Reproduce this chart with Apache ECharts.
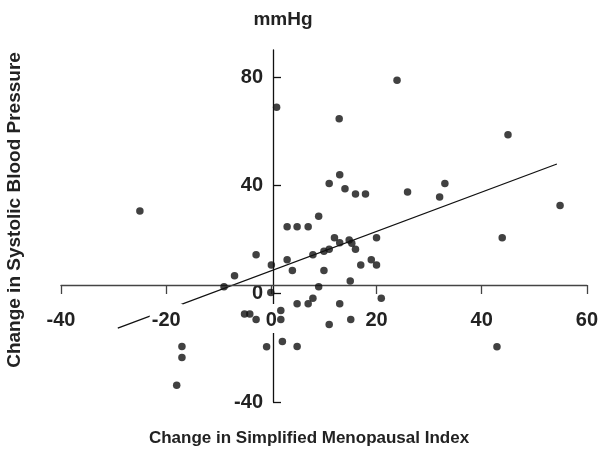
<!DOCTYPE html>
<html>
<head>
<meta charset="utf-8">
<script src="https://cdn.jsdelivr.net/npm/echarts@6/dist/echarts.min.js"></script>
<style>html,body{margin:0;padding:0;background:#fff;}#c{width:603px;height:455px;}</style>
</head>
<body>
<div id="c"></div>
<script>
// Change in Simplified Menopausal Index (x) and change in systolic BP (y)
var smiChange = [-25, -17, -17, -18, -9, -7, -5.1, -4.1, -2.9, -2.9, -0.9, -0.1, 0, 1.8, 1.8, 2.1, 3, 4.9, 7, 9,
  3, 4, 4.9, 4.9, 7, 7.9, 7.9, 9, 10, 11, 10, 11, 11, 13, 12.9, 14, 16, 17.9, 12, 13,
  14.8, 15.3, 16, 17, 19, 20, 20, 15, 20.9, 13, 15.1, 23.9, 25.9, 33, 32, 45, 43.9, 54.9, 42.9, 1];
var sbpChange = [30.5, -19.5, -23.6, -33.8, 2.6, 6.6, -7.5, -7.5, -9.5, 14.4, -19.6, 0.4, 10.6, -6.2, -9.5, -17.7, 24.7, 24.7, 24.7, 28.6,
  12.5, 8.6, -3.7, -19.5, -3.7, -1.7, 14.4, 2.6, 15.7, 16.4, 8.6, -11.4, 40.7, 43.9, 64.6, 38.8, 36.8, 36.8, 20.7, 18.8,
  19.8, 18.6, 16.4, 10.6, 12.5, 10.6, 20.7, 4.7, -1.7, -3.7, -9.5, 78.8, 37.6, 40.7, 35.7, 58.7, 20.7, 32.6, -19.6, 68.9];
var regressionX = [-29.2, 54.3];
var regressionY = [-12.7, 47.9];
var xTicks = [-40, -20, 0, 20, 40, 60];
var yTicks = [-40, 0, 40, 80];

var points = smiChange.map(function (x, i) { return [x, sbpChange[i]]; });
var regLine = regressionX.map(function (x, i) { return [x, regressionY[i]]; });

var FONT = 'Liberation Sans, Arial, sans-serif';
var chart = echarts.init(document.getElementById('c'), null, { renderer: 'canvas' });
chart.setOption({
  animation: false,
  backgroundColor: '#fff',
  grid: { left: 61, right: 10, top: 50, bottom: 53 },
  xAxis: {
    type: 'value', min: -40, max: 60, interval: 20, z: 5,
    position: 'bottom', offset: -117,
    splitLine: { show: false },
    axisLine: { onZero: false, lineStyle: { color: '#444', width: 1.3 } },
    axisTick: { show: true, inside: false, length: 9, lineStyle: { color: '#444', width: 1.3 } },
    axisLabel: {
      margin: 19, color: '#222', fontFamily: FONT, fontWeight: 'bold', fontSize: 20,
      backgroundColor: '#fff', padding: [6, 2, 3, 2]
    }
  },
  yAxis: {
    type: 'value', min: -40, max: 90, z: 1,
    position: 'left', offset: -212,
    splitLine: { show: false },
    axisLine: { onZero: false, lineStyle: { color: '#111', width: 1.3 } },
    axisTick: { inside: true, length: 8, customValues: yTicks, lineStyle: { color: '#111', width: 1.3 } },
    axisLabel: { customValues: yTicks, margin: 10, color: '#222', fontFamily: FONT, fontWeight: 'bold', fontSize: 20 }
  },
  series: [
    { type: 'line', data: regLine, symbol: 'none', z: 2, lineStyle: { color: '#111', width: 1.3 } },
    { type: 'scatter', data: points, symbol: 'circle', symbolSize: 7.5, z: 6, itemStyle: { color: '#111' } }
  ],
  graphic: [
    { type: 'text', x: 283, y: 20, style: { text: 'mmHg', fill: '#222', font: 'bold 19px ' + FONT, textAlign: 'center', textVerticalAlign: 'middle' } },
    { type: 'text', x: 309, y: 438, style: { text: 'Change in Simplified Menopausal Index', fill: '#222', font: 'bold 17px ' + FONT, textAlign: 'center', textVerticalAlign: 'middle' } },
    { type: 'text', x: 15, y: 210, rotation: Math.PI / 2, style: { text: 'Change in Systolic Blood Pressure', fill: '#222', font: 'bold 19px ' + FONT, textAlign: 'center', textVerticalAlign: 'middle' } }
  ]
});
</script>
</body>
</html>
